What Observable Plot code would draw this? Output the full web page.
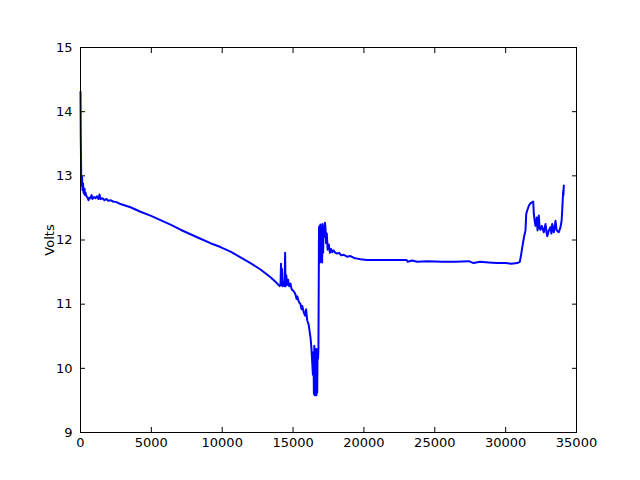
<!DOCTYPE html>
<html>
<head>
<meta charset="utf-8">
<script src="https://cdn.jsdelivr.net/npm/d3@7"></script>
<script src="https://cdn.jsdelivr.net/npm/@observablehq/plot@0.6"></script>
<style>
  html, body { margin: 0; padding: 0; background: #fff; }
  #chart svg { display: block; }
</style>
</head>
<body>
<div id="chart"></div>
<script>
const seconds = [0, 20, 50, 71, 110, 141, 180, 212, 250, 282, 320, 353, 423, 500, 565, 640, 706, 780, 847, 950, 1058, 1150, 1270, 1341, 1411, 1550, 1694, 1835, 1950, 2117, 2300, 2540, 2823, 3528, 4234, 4940, 5645, 6351, 7057, 7762, 8468, 9173, 9879, 10585, 11290, 11996, 12702, 13407, 13760, 13972, 14050, 14113, 14150, 14184, 14220, 14260, 14330, 14400, 14440, 14466, 14520, 14586, 14650, 14720, 14819, 14880, 14939, 15050, 15172, 15250, 15300, 15400, 15524, 15600, 15650, 15757, 15850, 15920, 15997, 16100, 16230, 16300, 16350, 16400, 16440, 16470, 16500, 16530, 16560, 16590, 16620, 16650, 16680, 16703, 16730, 16760, 16790, 16830, 16850, 16870, 16900, 16930, 16960, 17000, 17050, 17080, 17120, 17160, 17200, 17250, 17290, 17330, 17380, 17440, 17521, 17600, 17680, 17761, 17850, 17994, 18100, 18250, 18400, 18580, 18800, 19053, 19300, 19526, 19758, 20200, 20800, 21500, 22300, 23000, 23100, 23400, 23760, 24500, 25500, 26500, 27400, 27732, 28200, 28800, 29400, 29990, 30400, 30816, 31000, 31100, 31169, 31300, 31401, 31450, 31521, 31650, 31754, 31945, 31987, 32050, 32107, 32200, 32250, 32340, 32400, 32460, 32550, 32693, 32813, 32900, 32933, 33050, 33166, 33230, 33286, 33399, 33460, 33518, 33600, 33751, 33871, 33950, 33991, 34062, 34080, 34105];
const volts = [14.31, 13.6, 13.0, 12.85, 12.98, 12.78, 12.88, 12.75, 12.72, 12.8, 12.70, 12.74, 12.68, 12.66, 12.62, 12.66, 12.65, 12.70, 12.64, 12.67, 12.65, 12.68, 12.64, 12.71, 12.64, 12.65, 12.62, 12.64, 12.61, 12.62, 12.60, 12.59, 12.56, 12.51, 12.44, 12.38, 12.31, 12.24, 12.16, 12.09, 12.02, 11.95, 11.89, 11.82, 11.73, 11.64, 11.54, 11.42, 11.35, 11.30, 11.28, 11.30, 11.63, 11.30, 11.55, 11.28, 11.34, 11.28, 11.80, 11.28, 11.45, 11.30, 11.38, 11.28, 11.32, 11.25, 11.22, 11.20, 11.15, 11.08, 11.12, 11.04, 11.00, 10.92, 10.97, 10.87, 10.82, 10.92, 10.75, 10.68, 10.48, 10.30, 10.10, 9.90, 10.25, 9.60, 10.35, 9.58, 10.20, 9.58, 10.30, 9.58, 10.10, 9.62, 10.30, 10.15, 10.30, 12.20, 11.70, 12.22, 11.65, 12.24, 11.80, 12.20, 11.65, 12.25, 11.80, 12.22, 12.05, 12.27, 12.18, 11.95, 12.10, 11.85, 11.93, 11.80, 11.86, 11.81, 11.84, 11.80, 11.79, 11.80, 11.76, 11.77, 11.74, 11.75, 11.72, 11.71, 11.70, 11.69, 11.69, 11.69, 11.69, 11.69, 11.66, 11.68, 11.66, 11.67, 11.66, 11.66, 11.67, 11.64, 11.66, 11.65, 11.64, 11.64, 11.63, 11.64, 11.66, 11.78, 11.88, 12.05, 12.15, 12.40, 12.46, 12.54, 12.57, 12.60, 12.41, 12.30, 12.22, 12.35, 12.15, 12.38, 12.18, 12.16, 12.22, 12.12, 12.25, 12.10, 12.06, 12.15, 12.20, 12.10, 12.25, 12.12, 12.20, 12.30, 12.15, 12.12, 12.20, 12.30, 12.46, 12.77, 12.70, 12.85];
const xTicks = [0, 5000, 10000, 15000, 20000, 25000, 30000, 35000];
const yTicks = [9, 10, 11, 12, 13, 14, 15];

const data = seconds.map((t, i) => ({t, v: volts[i]}));

const chart = Plot.plot({
  width: 640,
  height: 480,
  marginLeft: 80,
  marginRight: 64,
  marginTop: 47,
  marginBottom: 48,
  style: {fontFamily: "DejaVu Sans", fontSize: "13px", background: "#fff", color: "#000"},
  x: {domain: [0, 35000]},
  y: {domain: [9, 15]},
  marks: [
    Plot.line(data, {x: "t", y: "v", stroke: "#0000ff", strokeWidth: 2}),
    Plot.frame({stroke: "#000", strokeWidth: 1}),
    Plot.axisX(xTicks, {anchor: "bottom", tickSize: -5, tickPadding: 10, tickFormat: "d", label: null}),
    Plot.axisX(xTicks, {anchor: "top", tickSize: -5, tickFormat: () => "", label: null}),
    Plot.axisY(yTicks, {anchor: "left", tickSize: -5, tickPadding: 13, tickFormat: "d", label: "Volts", labelAnchor: "center", labelArrow: "none", labelOffset: 36}),
    Plot.axisY(yTicks, {anchor: "right", tickSize: -5, tickFormat: () => "", label: null})
  ]
});
document.getElementById("chart").appendChild(chart);
</script>
</body>
</html>
